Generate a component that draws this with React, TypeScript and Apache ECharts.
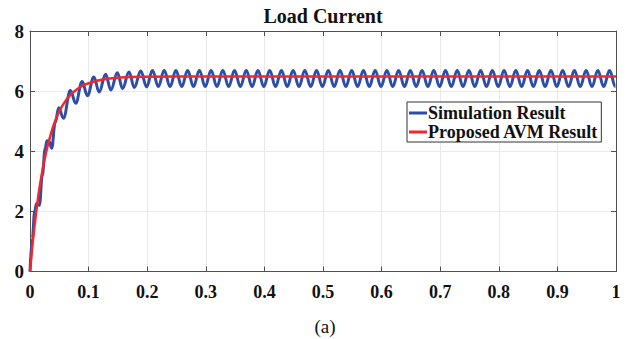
import React, { useEffect, useRef } from "react";
import * as echarts from "echarts";

const titleText = "Load Current";
const captionText = "(a)";
const seriesNames = ["Simulation Result", "Proposed AVM Result"];
const xTickLabels = ["0", "0.1", "0.2", "0.3", "0.4", "0.5", "0.6", "0.7", "0.8", "0.9", "1"];
const yTickLabels = ["0", "2", "4", "6", "8"];

// Simulation result: start-up transient (time s, current A)
const simStartup: [number, number][] = [
  [0, 0], [0.004, 1.1], [0.008, 2.0], [0.011, 2.25], [0.016, 2.2], [0.021, 3.2],
  [0.026, 4.1], [0.029, 4.35], [0.033, 4.32], [0.037, 4.1], [0.043, 4.95],
  [0.049, 5.45], [0.057, 5.1], [0.069, 6.02], [0.078, 5.6], [0.089, 6.32],
  [0.098, 5.85], [0.109, 6.47], [0.118, 5.97], [0.129, 6.56], [0.138, 6.04],
  [0.149, 6.61], [0.158, 6.09], [0.169, 6.64], [0.178, 6.12], [0.189, 6.67],
  [0.199, 6.14],
];

// Simulation result: steady-state ripple (peaks and troughs)
const simSteady: [number, number][] = [
  [0.209, 6.69], [0.219, 6.15], [0.229, 6.69], [0.239, 6.15], [0.249, 6.69], [0.259, 6.15],
  [0.269, 6.69], [0.279, 6.15], [0.289, 6.69], [0.299, 6.15], [0.309, 6.69], [0.319, 6.15],
  [0.329, 6.69], [0.339, 6.15], [0.349, 6.69], [0.359, 6.15], [0.369, 6.69], [0.379, 6.15],
  [0.389, 6.69], [0.399, 6.15], [0.409, 6.69], [0.419, 6.15], [0.429, 6.69], [0.439, 6.15],
  [0.449, 6.69], [0.459, 6.15], [0.469, 6.69], [0.479, 6.15], [0.489, 6.69], [0.499, 6.15],
  [0.509, 6.69], [0.519, 6.15], [0.529, 6.69], [0.539, 6.15], [0.549, 6.69], [0.559, 6.15],
  [0.569, 6.69], [0.579, 6.15], [0.589, 6.69], [0.599, 6.15], [0.609, 6.69], [0.619, 6.15],
  [0.629, 6.69], [0.639, 6.15], [0.649, 6.69], [0.659, 6.15], [0.669, 6.69], [0.679, 6.15],
  [0.689, 6.69], [0.699, 6.15], [0.709, 6.69], [0.719, 6.15], [0.729, 6.69], [0.739, 6.15],
  [0.749, 6.69], [0.759, 6.15], [0.769, 6.69], [0.779, 6.15], [0.789, 6.69], [0.799, 6.15],
  [0.809, 6.69], [0.819, 6.15], [0.829, 6.69], [0.839, 6.15], [0.849, 6.69], [0.859, 6.15],
  [0.869, 6.69], [0.879, 6.15], [0.889, 6.69], [0.899, 6.15], [0.909, 6.69], [0.919, 6.15],
  [0.929, 6.69], [0.939, 6.15], [0.949, 6.69], [0.959, 6.15], [0.969, 6.69], [0.979, 6.15],
  [0.989, 6.69], [0.999, 6.15], [1.0, 6.16],
];

// Proposed AVM result (averaged model)
const avmData: [number, number][] = [
  [0, 0], [0.005, 1.03], [0.01, 1.89], [0.015, 2.62], [0.02, 3.23], [0.025, 3.74],
  [0.03, 4.17], [0.04, 4.85], [0.05, 5.33], [0.06, 5.66], [0.07, 5.9], [0.08, 6.06],
  [0.09, 6.18], [0.1, 6.26], [0.12, 6.37], [0.14, 6.43], [0.17, 6.47], [0.2, 6.48],
  [0.3, 6.49], [1.0, 6.49],
];

const FONT = "Liberation Serif";

export default function App() {
  const ref = useRef<HTMLDivElement>(null);
  useEffect(() => {
    document.body.style.margin = "0";
    if (!ref.current) return;
    const chart = echarts.init(ref.current, undefined, { renderer: "svg" });
    const frameColor = "#505050";
    const xLabelFmt = (v: number) => xTickLabels[Math.round(v * 10)] ?? "";
    const yLabelFmt = (v: number) => yTickLabels[Math.round(v / 2)] ?? "";
    chart.setOption({
      animation: false,
      backgroundColor: "#ffffff",
      grid: { left: 30, right: 19, top: 31, bottom: 67.5, containLabel: false },
      graphic: [
        {
          type: "text",
          x: 323,
          y: 16,
          style: {
            text: titleText,
            textAlign: "center",
            textVerticalAlign: "middle",
            fontFamily: FONT,
            fontWeight: "bold",
            fontSize: 20,
            fill: "#111",
          },
        },
        {
          type: "text",
          x: 325,
          y: 326,
          style: {
            text: captionText,
            textAlign: "center",
            textVerticalAlign: "middle",
            fontFamily: FONT,
            fontSize: 19,
            fill: "#111",
          },
        },
      ],
      legend: {
        orient: "vertical",
        left: 407,
        top: 102,
        width: 202,
        padding: [2, 3, 1, 2],
        itemGap: 1,
        itemWidth: 18,
        itemHeight: 3,
        icon: "rect",
        backgroundColor: "#ffffff",
        borderColor: "#333",
        borderWidth: 1,
        textStyle: { fontFamily: FONT, fontWeight: "bold", fontSize: 18, color: "#111", padding: [0, 0, 0, -4] },
        data: seriesNames,
      },
      xAxis: [
        {
          type: "value",
          min: 0,
          max: 1,
          interval: 0.1,
          position: "bottom",
          axisLine: { show: true, onZero: false, lineStyle: { color: frameColor, width: 1 } },
          axisTick: { show: true, inside: true, length: 5, lineStyle: { color: frameColor } },
          axisLabel: {
            formatter: xLabelFmt,
            margin: 11,
            fontFamily: FONT,
            fontWeight: "bold",
            fontSize: 18,
            color: "#111",
          },
          splitLine: { show: true, lineStyle: { color: "#e9e9e9", width: 1 } },
        },
        {
          type: "value",
          min: 0,
          max: 1,
          interval: 0.1,
          position: "top",
          axisLine: { show: true, onZero: false, lineStyle: { color: frameColor, width: 1 } },
          axisTick: { show: true, inside: true, length: 5, lineStyle: { color: frameColor } },
          axisLabel: { show: false },
          splitLine: { show: false },
        },
      ],
      yAxis: [
        {
          type: "value",
          min: 0,
          max: 8,
          interval: 2,
          position: "left",
          axisLine: { show: true, onZero: false, lineStyle: { color: frameColor, width: 1 } },
          axisTick: { show: true, inside: true, length: 5, lineStyle: { color: frameColor } },
          axisLabel: {
            formatter: yLabelFmt,
            margin: 6,
            fontFamily: FONT,
            fontWeight: "bold",
            fontSize: 19,
            color: "#111",
          },
          splitLine: { show: true, lineStyle: { color: "#e9e9e9", width: 1 } },
        },
        {
          type: "value",
          min: 0,
          max: 8,
          interval: 2,
          position: "right",
          axisLine: { show: true, onZero: false, lineStyle: { color: frameColor, width: 1 } },
          axisTick: { show: true, inside: true, length: 5, lineStyle: { color: frameColor } },
          axisLabel: { show: false },
          splitLine: { show: false },
        },
      ],
      series: [
        {
          name: seriesNames[0],
          type: "line",
          xAxisIndex: 0,
          yAxisIndex: 0,
          data: [...simStartup, ...simSteady],
          showSymbol: false,
          smooth: 0.4,
          smoothMonotone: "x",
          color: "#2E4EA6",
          lineStyle: { color: "#2E4EA6", width: 3 },
          z: 2,
        },
        {
          name: seriesNames[1],
          type: "line",
          xAxisIndex: 0,
          yAxisIndex: 0,
          data: avmData,
          showSymbol: false,
          smooth: 0.4,
          color: "#F2262C",
          lineStyle: { color: "#F2262C", width: 2.5 },
          z: 3,
        },
      ],
    });
    return () => chart.dispose();
  }, []);
  return <div ref={ref} style={{ width: 635, height: 339 }} />;
}
